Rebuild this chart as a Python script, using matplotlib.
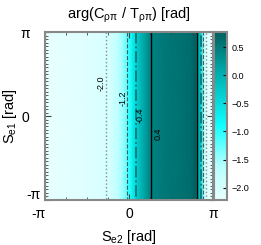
import numpy as np
import matplotlib.pyplot as plt
from matplotlib.colors import LinearSegmentedColormap
from matplotlib.ticker import MultipleLocator
from matplotlib.transforms import ScaledTranslation

plt.rcParams['font.family'] = ['Liberation Sans', 'DejaVu Sans']
plt.rcParams['mathtext.fontset'] = 'custom'
plt.rcParams['mathtext.rm'] = 'Liberation Sans'
plt.rcParams['mathtext.default'] = 'regular'

# profile of the phase along S_e2 (the map does not depend on S_e1)
se2 = [-3.1416, -2.5, -2.0, -1.5, -1.0, -0.7, -0.4, -0.2, 0.0, 0.15, 0.3,
       0.45, 0.6, 0.75, 0.9, 1.2, 1.6, 2.0, 2.3, 2.5, 2.6, 2.7, 2.8, 2.9, 3.1416]
phase = [-2.2, -2.17, -2.14, -2.1, -2.03, -1.97, -1.7, -1.45, -1.05, -0.68, -0.3,
         -0.05, 0.15, 0.37, 0.45, 0.52, 0.56, 0.6, 0.65, 0.77, 0.1, -0.4, -1.6, -2.1, -2.2]
se1 = [-3.1416, 3.1416]

levels = [-2.0, -1.2, -0.4, 0.4]
level_styles = [':', '--', '-.', '-']
level_colors = ['#8a8a8a', '#555555', '#007a7a', 'black']

vmin, vmax = -2.22, 0.77
def pos(v):
    return (v - vmin) / (vmax - vmin)
cmap = LinearSegmentedColormap.from_list(
    'tealcyan',
    [(0.0, '#e8ffff'), (pos(-1.6), '#b4ffff'), (pos(-0.9), '#10ffff'),
     (pos(0.0), '#00b2b2'), (1.0, '#005f5f')])

x = np.array(se2)
y = np.array(se1)
Z = np.tile(np.array(phase), (len(y), 1))

fig = plt.figure(figsize=(2.61, 2.45), dpi=100)
ax = fig.add_axes([0.172, 0.184, 0.644, 0.685])
cax = fig.add_axes([0.82, 0.184, 0.05, 0.685])

mesh = ax.pcolormesh(x, y, Z, cmap=cmap, vmin=vmin, vmax=vmax, shading='gouraud')
ax.contour(x, y, Z, levels=levels, colors=level_colors,
           linestyles=level_styles, linewidths=[1.0, 0.8, 1.3, 1.0])

# contour labels beside the lines on the left side
left = slice(0, 20)
label_y = [1.23, 0.67, 0.03, -0.68]
label_dx = [-0.19, -0.14, 0.17, 0.28]
for lev, yy, dx in zip(levels, label_y, label_dx):
    xx = np.interp(lev, np.array(phase[left]), x[left])
    ax.text(xx + dx, yy, f'{lev:.1f}', rotation=90, fontsize=6.5,
            ha='center', va='center')

ax.set_xlim(-np.pi, np.pi)
ax.set_ylim(-np.pi, np.pi)
ax.set_xticks([-np.pi, 0, np.pi])
ax.set_xticklabels(['-π', '0', 'π'])
ax.set_yticks([-np.pi, 0, np.pi])
ax.set_yticklabels(['-π', '0', 'π'], ha='center')
ax.xaxis.set_minor_locator(MultipleLocator(np.pi / 4))
ax.yaxis.set_minor_locator(MultipleLocator(np.pi / 24))
ax.tick_params(which='both', direction='in', top=True, right=True,
               labelsize=10, color='#444444')
ax.tick_params(which='major', length=4)
ax.tick_params(which='minor', length=2)
ax.tick_params(axis='x', pad=5)
ax.tick_params(axis='y', pad=14)
for sp in ax.spines.values():
    sp.set_color('#888888')
    sp.set_linewidth(1.5)

# gnuplot shifts the two -pi labels away from the corner
xl0 = ax.get_xticklabels()[0]
xl0.set_transform(xl0.get_transform() + ScaledTranslation(-0.06, 0, fig.dpi_scale_trans))
yl0 = ax.get_yticklabels()[0]
yl0.set_transform(yl0.get_transform() + ScaledTranslation(0.08, 0.06, fig.dpi_scale_trans))

ax.set_title('arg(C$_{\\rho\\pi}$ / T$_{\\rho\\pi}$) [rad]', fontsize=10.5, pad=10)
ax.set_xlabel('S$_{e2}$ [rad]', fontsize=10.5, labelpad=5)
ax.set_ylabel('S$_{e1}$ [rad]', fontsize=10.5, labelpad=1)

cb = fig.colorbar(mesh, cax=cax)
cb.set_ticks([0.5, 0.0, -0.5, -1.0, -1.5, -2.0])
cb.ax.tick_params(labelsize=6.5, direction='in', length=3, color='black')
cb.outline.set_edgecolor('#888888')
cb.outline.set_linewidth(1.5)

fig.savefig('out.png', dpi=100)
